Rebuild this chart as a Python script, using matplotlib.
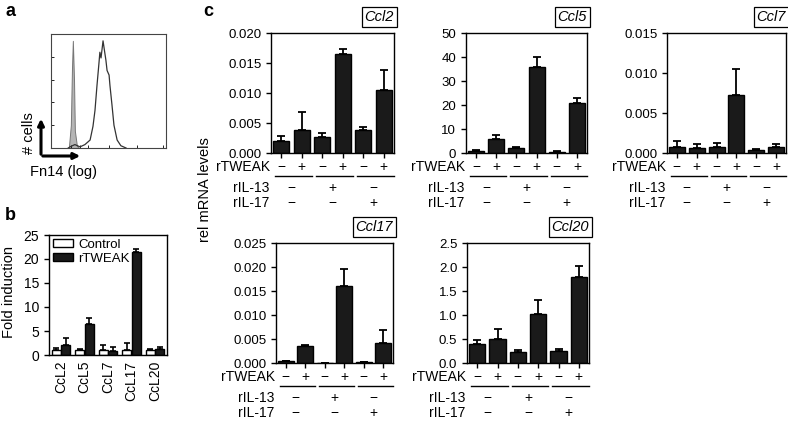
import numpy as np
import matplotlib.pyplot as plt
from matplotlib.ticker import FormatStrFormatter

plt.rcParams['font.family'] = ['Liberation Sans', 'DejaVu Sans']
plt.rcParams['font.size'] = 10
plt.rcParams['axes.linewidth'] = 1.0

# ---- panel a: Fn14 flow histogram (log10 fluorescence, % of max) ----
fn14_pos = [0.60, 0.66, 0.83, 1.01, 1.18, 1.36, 1.46, 1.53, 1.60, 1.67, 1.70, 1.74,
            1.81, 1.88, 1.91, 1.95, 2.02, 2.05, 2.12, 2.19, 2.30, 2.43, 2.61]
fn14_counts = [0, 1, 3, 1, 3, 7, 19, 33, 55, 75, 84, 79,
               94, 82, 77, 68, 64, 55, 38, 20, 7, 2, 0]
iso_pos = [0.62, 0.69, 0.73, 0.76, 0.80, 0.83, 0.90, 0.97]
iso_counts = [0, 20, 70, 94, 60, 15, 2, 0]

# ---- panel b: fold induction ----
b_genes = ['CcL2', 'CcL5', 'CcL7', 'CcL17', 'CcL20']
b_control = [1.0, 1.0, 1.0, 1.0, 1.0]
b_control_err = [0.5, 0.3, 1.0, 1.5, 0.2]
b_tweak = [2.0, 6.5, 0.9, 21.5, 1.2]
b_tweak_err = [1.5, 1.2, 0.7, 0.5, 0.5]

# ---- panel c: rel mRNA levels (6 conditions each) ----
rtweak = ['−', '+', '−', '+', '−', '+']
ril13 = ['−', '+', '−']
ril17 = ['−', '−', '+']

ccl2 = [0.0020, 0.0038, 0.0026, 0.0165, 0.0038, 0.0105]
ccl2_err = [0.0009, 0.0031, 0.0007, 0.0009, 0.0006, 0.0034]
ccl5 = [0.8, 6.0, 2.2, 36.0, 0.5, 21.0]
ccl5_err = [0.4, 1.3, 0.2, 4.0, 0.3, 2.0]
ccl7 = [0.0007, 0.0006, 0.0008, 0.0073, 0.0004, 0.0007]
ccl7_err = [0.0008, 0.0005, 0.0005, 0.0032, 0.0001, 0.0004]
ccl17 = [0.0004, 0.0036, 0.0001, 0.0160, 0.0002, 0.0042]
ccl17_err = [0.0001, 0.0001, 0.0, 0.0035, 0.0001, 0.0026]
ccl20 = [0.40, 0.50, 0.23, 1.02, 0.25, 1.80]
ccl20_err = [0.08, 0.20, 0.05, 0.30, 0.04, 0.22]

W, H = 788, 423
fig = plt.figure(figsize=(W / 100, H / 100), dpi=100)


def px_axes(l, t, r, b):
    return fig.add_axes([l / W, 1 - b / H, (r - l) / W, (b - t) / H])


# panel a
ax_a = px_axes(51, 34, 166, 148)
ax_a.fill_between(iso_pos, iso_counts, color='#b5b5b5', edgecolor='#777777', lw=0.7)
ax_a.plot(fn14_pos, fn14_counts, color='#333333', lw=0.9)
ax_a.set_xlim(0, 4)
ax_a.set_ylim(0, 100)
ax_a.set_xticks([0.7, 1.0, 1.3, 2.0, 3.0, 3.9])
ax_a.set_yticks([20, 40, 60, 80])
ax_a.tick_params(direction='in', length=2, width=0.6, labelbottom=False, labelleft=False)
for s in ax_a.spines.values():
    s.set_color('#444444')
    s.set_linewidth(0.8)

ax_a.annotate('', xy=(41, H - 116), xytext=(41, H - 157), xycoords='figure pixels',
              textcoords='figure pixels',
              arrowprops=dict(arrowstyle='-|>', color='black', lw=2.2, mutation_scale=9))
ax_a.annotate('', xy=(83, H - 156), xytext=(40, H - 156), xycoords='figure pixels',
              textcoords='figure pixels',
              arrowprops=dict(arrowstyle='-|>', color='black', lw=2.2, mutation_scale=9))
fig.text(29 / W, 1 - 133 / H, '# cells', rotation=90, ha='center', va='center', fontsize=10.5)
fig.text(63 / W, 1 - 172 / H, 'Fn14 (log)', ha='center', va='center', fontsize=10.5)

# panel b
ax_b = px_axes(49, 235, 167, 355)
xb = np.arange(len(b_genes))
w = 0.38
ax_b.bar(xb - 0.2, b_control, w, color='white', edgecolor='black', lw=1, label='Control')
ax_b.bar(xb + 0.2, b_tweak, w, color='#1a1a1a', edgecolor='black', lw=1, label='rTWEAK')
ax_b.errorbar(xb - 0.2, b_control, yerr=[np.zeros(5), b_control_err], fmt='none',
              ecolor='black', elinewidth=1.2, capsize=2.5, capthick=1.2)
ax_b.errorbar(xb + 0.2, b_tweak, yerr=[np.zeros(5), b_tweak_err], fmt='none',
              ecolor='black', elinewidth=1.2, capsize=2.5, capthick=1.2)
ax_b.set_xlim(-0.5, 4.5)
ax_b.set_ylim(0, 25)
ax_b.set_yticks(np.arange(0, 26, 5))
ax_b.set_xticks(xb)
ax_b.set_xticklabels(b_genes, rotation=90)
ax_b.tick_params(length=3.5, width=1, labelsize=10)
ax_b.tick_params(axis='x', length=0, pad=4)
ax_b.legend(loc='upper left', frameon=False, fontsize=9.5, handlelength=1.5, handleheight=0.6,
            handletextpad=0.4, labelspacing=0.15, borderaxespad=0.1, borderpad=0.2)
fig.text(9 / W, 1 - 292 / H, 'Fold induction', rotation=90, ha='center', va='center',
         fontsize=10.5)


# panel c
def draw_panel(box, means, errs, ymax, step, fmt, name):
    ax = px_axes(*box)
    x = np.arange(len(means))
    ax.bar(x, means, 0.8, color='#1a1a1a', edgecolor='black', lw=1)
    ax.errorbar(x, means, yerr=[np.zeros(len(errs)), errs], fmt='none', ecolor='black',
                elinewidth=1.3, capsize=3, capthick=1.3)
    ax.set_xlim(-0.5, 5.5)
    ax.set_ylim(0, ymax)
    ax.set_yticks(np.arange(0, ymax + step / 2, step))
    ax.yaxis.set_major_formatter(FormatStrFormatter(fmt))
    ax.set_xticks(x)
    ax.set_xticklabels([])
    ax.tick_params(length=3.5, width=1, labelsize=9.5)
    ax.text(1.0, 1.075, name, transform=ax.transAxes, ha='right', va='bottom',
            style='italic', fontsize=10.5,
            bbox=dict(boxstyle='square,pad=0.2', fc='white', ec='black', lw=0.9))
    tr = ax.get_xaxis_transform()
    for xi, s in zip(x, rtweak):
        ax.text(xi, -0.115, s, transform=tr, ha='center', va='center', fontsize=10)
    for k in range(3):
        ax.plot([2 * k - 0.3, 2 * k + 1.5], [-0.19, -0.19], transform=tr, color='black',
                lw=1, clip_on=False)
        ax.text(2 * k + 0.5, -0.29, ril13[k], transform=tr, ha='center', va='center',
                fontsize=10)
        ax.text(2 * k + 0.5, -0.42, ril17[k], transform=tr, ha='center', va='center',
                fontsize=10)
    ax.text(-0.01, -0.115, 'rTWEAK', transform=ax.transAxes, ha='right', va='center',
            fontsize=10)
    ax.text(-0.01, -0.29, 'rIL-13', transform=ax.transAxes, ha='right', va='center',
            fontsize=10)
    ax.text(-0.01, -0.42, 'rIL-17', transform=ax.transAxes, ha='right', va='center',
            fontsize=10)
    return ax


draw_panel((271, 33, 394, 153), ccl2, ccl2_err, 0.020, 0.005, '%.3f', 'Ccl2')
draw_panel((466, 33, 587, 153), ccl5, ccl5_err, 50, 10, '%d', 'Ccl5')
draw_panel((667, 33, 786, 153), ccl7, ccl7_err, 0.015, 0.005, '%.3f', 'Ccl7')
draw_panel((276, 243, 393, 363), ccl17, ccl17_err, 0.025, 0.005, '%.3f', 'Ccl17')
draw_panel((467, 243, 589, 363), ccl20, ccl20_err, 2.5, 0.5, '%.1f', 'Ccl20')

fig.text(205 / W, 1 - 190 / H, 'rel mRNA levels', rotation=90, ha='center', va='center',
         fontsize=10.5)

# panel letters
for lx, ly, letter in [(5, 12, 'a'), (5, 215, 'b'), (203, 12, 'c')]:
    fig.text(lx / W, 1 - ly / H, letter, fontsize=13, fontweight='bold', ha='left',
             va='center')

fig.savefig('out.png', dpi=100)
